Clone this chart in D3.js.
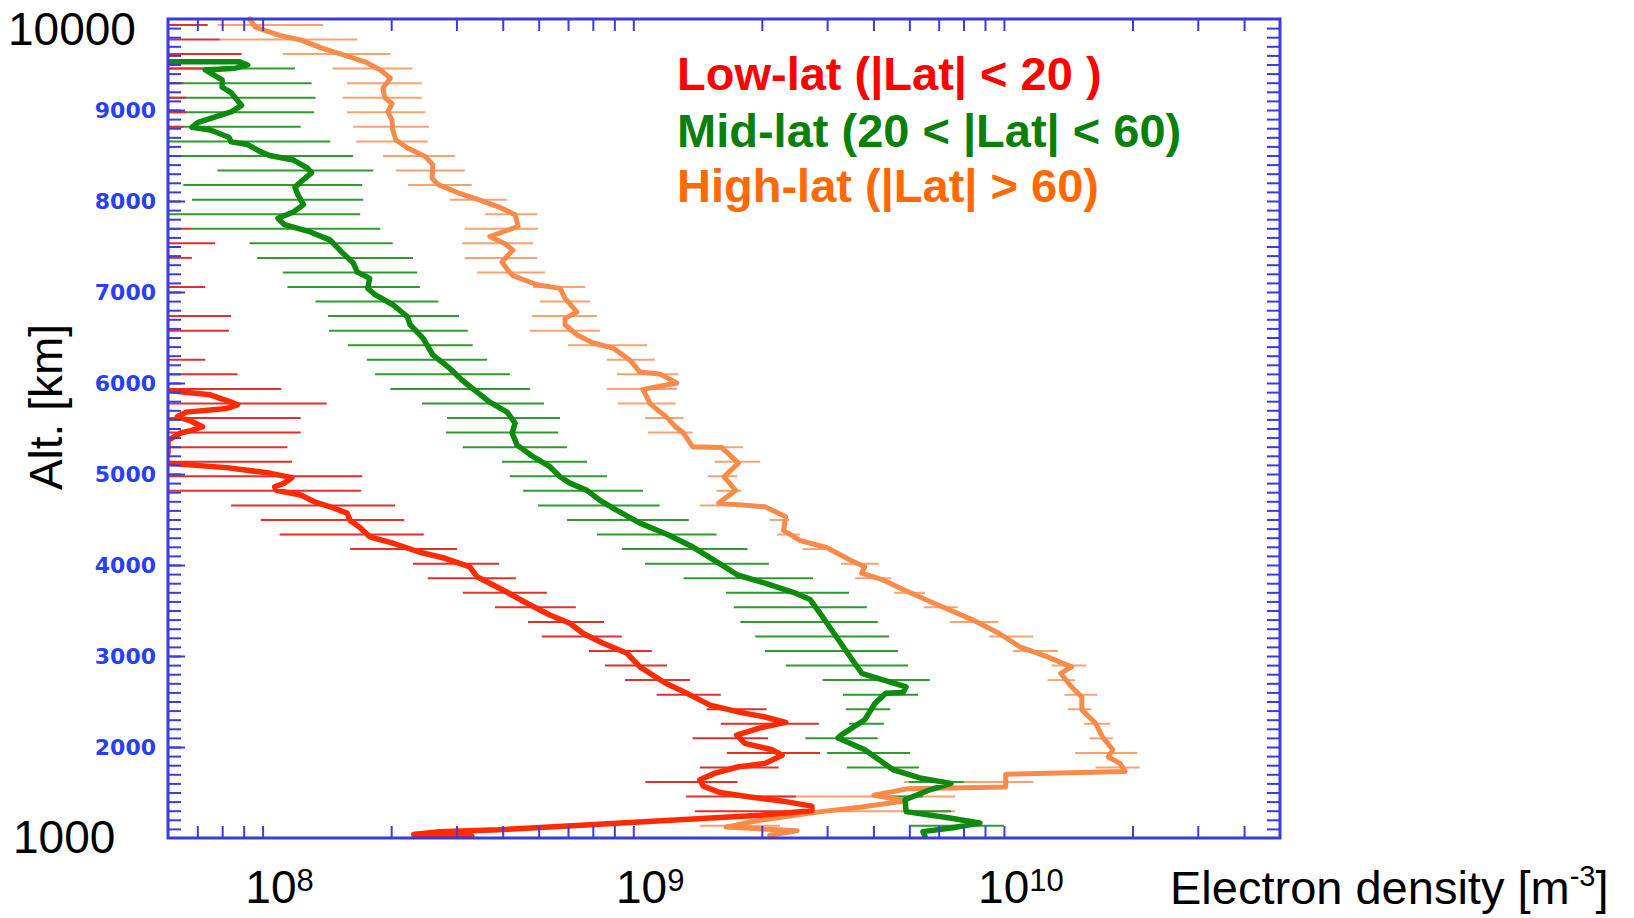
<!DOCTYPE html>
<html>
<head>
<meta charset="utf-8">
<script src="https://cdn.jsdelivr.net/npm/d3@7"></script>
<style>
body { margin: 0; background: #fff; }
</style>
</head>
<body>
<script>
var w = 1634;
var h = 918;

// profiles: [altitude km, electron density m^-3]
var lowLatProfile = [[5920,4.9e7],[5870,6.5e7],[5790,7.4e7],[5760,7.7e7],[5720,7.2e7],[5680,5.6e7],[5630,5.3e7],[5590,5.7e7],[5520,6.2e7],[5480,5.8e7],[5450,5.4e7],[5370,5.0e7],[5230,5.0e7],[5120,4.9e7],[5070,7.2e7],[5010,9.4e7],[4960,1.08e8],[4900,1.03e8],[4860,9.7e7],[4820,9.8e7],[4770,1.14e8],[4690,1.25e8],[4640,1.37e8],[4570,1.52e8],[4490,1.55e8],[4410,1.65e8],[4310,1.75e8],[4240,2.02e8],[4140,2.39e8],[4080,2.76e8],[3980,3.26e8],[3870,3.41e8],[3800,3.69e8],[3700,4.11e8],[3580,4.65e8],[3450,5.36e8],[3360,6.07e8],[3250,6.58e8],[3140,7.46e8],[3030,8.66e8],[2880,9.38e8],[2700,1.10e9],[2630,1.20e9],[2460,1.45e9],[2380,1.75e9],[2330,2.04e9],[2270,2.32e9],[2210,1.98e9],[2130,1.71e9],[2040,1.80e9],[1970,2.13e9],[1910,2.27e9],[1820,2.04e9],[1780,1.72e9],[1710,1.49e9],[1640,1.36e9],[1570,1.39e9],[1500,1.54e9],[1450,1.86e9],[1400,2.32e9],[1350,2.73e9],[1300,2.73e9],[1250,1.98e9],[1200,1.20e9],[1140,6.5e8],[1090,3.9e8],[1070,2.7e8],[1040,2.3e8],[1020,3.3e8]];

var midLatProfile = [[9530,4.8e7],[9530,7.8e7],[9495,8.2e7],[9460,7.6e7],[9440,6.3e7],[9330,7.0e7],[9250,7.0e7],[9190,7.4e7],[9050,7.9e7],[8980,7.4e7],[8860,6.0e7],[8810,5.8e7],[8780,6.5e7],[8700,7.3e7],[8650,7.4e7],[8620,8.2e7],[8540,8.9e7],[8500,9.4e7],[8450,1.09e8],[8360,1.19e8],[8310,1.22e8],[8210,1.14e8],[8150,1.10e8],[8070,1.12e8],[7960,1.16e8],[7880,1.09e8],[7810,9.9e7],[7740,1.03e8],[7660,1.21e8],[7570,1.37e8],[7440,1.47e8],[7320,1.58e8],[7220,1.62e8],[7150,1.75e8],[7040,1.73e8],[6970,1.81e8],[6860,2.02e8],[6730,2.21e8],[6640,2.25e8],[6490,2.44e8],[6310,2.59e8],[6160,2.88e8],[6030,3.11e8],[5900,3.41e8],[5790,3.69e8],[5680,4.11e8],[5560,4.32e8],[5450,4.24e8],[5320,4.37e8],[5190,4.83e8],[5080,5.36e8],[4970,5.71e8],[4900,6.07e8],[4820,6.75e8],[4710,7.32e8],[4600,8.13e8],[4460,9.38e8],[4330,1.12e9],[4200,1.30e9],[4050,1.49e9],[3890,1.72e9],[3800,2.04e9],[3700,2.43e9],[3620,2.70e9],[3470,2.87e9],[3250,3.13e9],[3030,3.41e9],[2810,3.72e9],[2740,4.22e9],[2660,4.90e9],[2600,4.81e9],[2590,4.32e9],[2480,4.04e9],[2300,3.79e9],[2130,3.27e9],[2100,3.21e9],[1970,3.79e9],[1860,4.14e9],[1750,4.52e9],[1660,5.34e9],[1600,6.48e9],[1530,5.68e9],[1420,4.87e9],[1290,4.90e9],[1220,6.43e9],[1165,7.75e9],[1110,6.48e9],[1070,5.44e9],[1020,5.51e9]];

var highLatProfile = [[10000,8.3e7],[9910,8.6e7],[9820,1.00e8],[9770,1.14e8],[9680,1.30e8],[9600,1.50e8],[9530,1.70e8],[9440,1.87e8],[9350,1.99e8],[9240,1.90e8],[9140,1.92e8],[9070,2.01e8],[8980,1.96e8],[8890,2.01e8],[8780,2.02e8],[8670,2.06e8],[8580,2.22e8],[8490,2.47e8],[8400,2.59e8],[8250,2.58e8],[8180,2.68e8],[8090,3.03e8],[8010,3.47e8],[7930,3.93e8],[7850,4.32e8],[7720,4.40e8],[7610,3.69e8],[7530,4.06e8],[7460,4.26e8],[7330,3.98e8],[7240,4.13e8],[7180,4.26e8],[7080,4.95e8],[7040,5.71e8],[6930,5.89e8],[6780,6.34e8],[6710,5.89e8],[6640,5.89e8],[6530,6.34e8],[6440,7.01e8],[6385,7.93e8],[6250,8.82e8],[6120,9.38e8],[6100,1.06e9],[6000,1.18e9],[5930,9.56e8],[5770,1.00e9],[5620,1.11e9],[5520,1.17e9],[5450,1.23e9],[5300,1.30e9],[5290,1.56e9],[5120,1.73e9],[4970,1.58e9],[4820,1.70e9],[4680,1.53e9],[4640,2.04e9],[4530,2.32e9],[4380,2.29e9],[4270,2.53e9],[4190,3.00e9],[4050,3.48e9],[3980,3.79e9],[3910,3.72e9],[3840,4.22e9],[3730,4.81e9],[3580,5.83e9],[3400,7.38e9],[3250,8.72e9],[3100,9.94e9],[2990,1.18e10],[2880,1.37e10],[2810,1.28e10],[2660,1.37e10],[2550,1.46e10],[2410,1.46e10],[2260,1.59e10],[2110,1.66e10],[1970,1.77e10],[1890,1.72e10],[1820,1.85e10],[1730,1.91e10],[1700,9.1e9],[1560,9.1e9],[1540,4.93e9],[1470,4.01e9],[1410,4.90e9],[1340,3.72e9],[1290,2.89e9],[1190,1.94e9],[1120,1.60e9],[1080,2.49e9],[1030,2.10e9]];

// error bars: [altitude km, low, high]
var lowLatErrors = [[9935,4.9e7,6.4e7],[9775,4.9e7,6.9e7],[9615,4.9e7,7.9e7],[9455,4.9e7,7.4e7],[9295,4.9e7,5.5e7],[9135,4.9e7,5.6e7],[8975,4.9e7,5.6e7],[8815,4.9e7,5.5e7],[7695,4.9e7,5.8e7],[7535,4.9e7,6.7e7],[7375,4.9e7,5.8e7],[7055,4.9e7,6.3e7],[6735,4.9e7,7.4e7],[6575,4.9e7,7.3e7],[6255,4.9e7,6.3e7],[6095,4.9e7,7.7e7],[5935,4.9e7,1.01e8],[5775,4.9e7,1.34e8],[5615,4.9e7,1.14e8],[5455,4.9e7,1.14e8],[5295,4.9e7,1.05e8],[5135,4.9e7,1.08e8],[4975,4.9e7,1.67e8],[4815,4.9e7,1.66e8],[4655,7.4e7,2.05e8],[4495,8.9e7,2.17e8],[4335,1.00e8,2.45e8],[4175,1.55e8,3.01e8],[4015,2.29e8,3.91e8],[3855,2.51e8,4.34e8],[3695,3.12e8,5.26e8],[3535,3.81e8,6.30e8],[3375,4.68e8,7.50e8],[3215,5.10e8,8.38e8],[3055,6.83e8,1.01e9],[2895,7.55e8,1.11e9],[2735,8.55e8,1.28e9],[2575,1.04e9,1.55e9],[2415,1.42e9,2.06e9],[2255,1.55e9,2.85e9],[2095,1.30e9,2.08e9],[1935,1.61e9,2.87e9],[1775,1.36e9,2.22e9],[1615,9.7e8,1.72e9],[1455,1.25e9,2.47e9],[1295,1.32e9,2.46e9]];

var midLatErrors = [[9455,4.9e7,1.10e8],[9295,4.9e7,1.22e8],[9135,4.9e7,1.25e8],[8975,4.9e7,1.24e8],[8815,4.9e7,1.14e8],[8655,4.9e7,1.37e8],[8495,4.9e7,1.58e8],[8335,6.8e7,1.79e8],[8175,5.5e7,1.67e8],[8015,5.8e7,1.68e8],[7855,4.9e7,1.65e8],[7695,5.8e7,1.87e8],[7535,8.3e7,2.02e8],[7375,8.7e7,2.29e8],[7215,1.02e8,2.35e8],[7055,1.05e8,2.39e8],[6895,1.25e8,2.68e8],[6735,1.35e8,3.05e8],[6575,1.36e8,3.22e8],[6415,1.53e8,3.32e8],[6255,1.72e8,3.63e8],[6095,1.81e8,4.18e8],[5935,1.99e8,4.74e8],[5775,2.42e8,5.17e8],[5615,2.83e8,5.71e8],[5455,2.81e8,5.64e8],[5295,3.12e8,5.96e8],[5135,3.98e8,6.75e8],[4975,4.18e8,7.64e8],[4815,4.54e8,9.56e8],[4655,4.98e8,1.06e9],[4495,5.96e8,1.27e9],[4335,7.18e8,1.51e9],[4175,8.38e8,1.83e9],[4015,9.68e8,2.09e9],[3855,1.23e9,2.75e9],[3695,1.60e9,3.44e9],[3535,1.68e9,3.84e9],[3375,1.75e9,4.11e9],[3215,1.92e9,4.41e9],[3055,2.04e9,4.66e9],[2895,2.32e9,4.96e9],[2735,2.92e9,5.68e9],[2575,3.31e9,5.28e9],[2415,3.37e9,4.44e9],[2255,3.44e9,4.27e9],[2095,2.62e9,4.11e9],[1935,3.00e9,5.02e9],[1775,3.39e9,5.31e9],[1615,4.99e9,7.02e9],[1455,4.44e9,5.44e9],[1295,4.90e9,6.48e9],[1135,4.99e9,9.00e9]];

var highLatErrors = [[9935,6.8e7,1.31e8],[9775,6.9e7,1.62e8],[9615,1.02e8,1.99e8],[9455,1.39e8,2.28e8],[9295,1.52e8,2.42e8],[9135,1.48e8,2.42e8],[8975,1.52e8,2.47e8],[8815,1.58e8,2.53e8],[8655,1.61e8,2.51e8],[8495,1.90e8,2.97e8],[8335,2.06e8,3.16e8],[8175,2.22e8,3.30e8],[8015,2.88e8,4.11e8],[7855,3.58e8,4.95e8],[7695,3.16e8,4.98e8],[7535,3.11e8,4.83e8],[7375,3.16e8,4.95e8],[7215,3.41e8,5.20e8],[7055,4.83e8,6.67e8],[6895,5.04e8,6.88e8],[6735,4.80e8,7.18e8],[6575,4.74e8,7.32e8],[6415,6.00e8,9.80e8],[6255,7.64e8,1.03e9],[6095,8.13e8,1.19e9],[5935,7.64e8,1.18e9],[5775,8.18e8,1.17e9],[5615,9.68e8,1.23e9],[5455,9.86e8,1.30e9],[5295,1.30e9,1.78e9],[5135,1.49e9,1.98e9],[4975,1.43e9,1.72e9],[4815,1.51e9,1.76e9],[4655,1.36e9,1.80e9],[4495,2.10e9,2.37e9],[4335,2.20e9,2.53e9],[4175,2.58e9,3.03e9],[4015,3.27e9,4.14e9],[3855,3.57e9,4.46e9],[3695,4.55e9,5.51e9],[3535,5.47e9,6.76e9],[3375,6.43e9,8.67e9],[3215,8.20e9,1.08e10],[3055,9.52e9,1.26e10],[2895,1.21e10,1.50e10],[2735,1.18e10,1.40e10],[2575,1.31e10,1.61e10],[2415,1.34e10,1.55e10],[2255,1.48e10,1.74e10],[2095,1.53e10,1.77e10],[1935,1.40e10,2.06e10],[1775,1.59e10,2.09e10],[1615,4.84e9,1.08e10],[1455,1.94e9,6.64e9],[1295,2.87e9,6.64e9],[1135,1.36e9,2.24e9]];

var altLabels = [2000, 3000, 4000, 5000, 6000, 7000, 8000, 9000];
var decades = [1e8, 1e9, 1e10];
var decadeExponents = ["8", "9", "10"];
var minorDensityTicks = [6e7,7e7,8e7,9e7,2e8,3e8,4e8,5e8,6e8,7e8,8e8,9e8,2e9,3e9,4e9,5e9,6e9,7e9,8e9,9e9,2e10,3e10,4e10];
var legendLabels = ["Low-lat (|Lat| < 20 )", "Mid-lat (20 < |Lat| < 60)", "High-lat (|Lat| > 60)"];

var svg = d3.select("body").append("svg").attr("width", w).attr("height", h);

var pL = 168, pR = 1280, pT = 19, pB = 838;
var xS = d3.scaleLog().domain([5e7, 5e10]).range([pL, pR]);
var yS = d3.scaleLinear().domain([1000, 10000]).range([pB, pT]);

var blue = "#3b3be0";

svg.append("clipPath").attr("id", "plot")
    .append("rect").attr("x", pL).attr("y", pT - 4).attr("width", pR - pL).attr("height", pB - pT + 4);

// error bars first, then the profiles on top
var series = [
    {prof: highLatProfile, err: highLatErrors, line: "#f88a4a", bar: "#f7a272", lw: 5},
    {prof: midLatProfile, err: midLatErrors, line: "#0e8a0e", bar: "#2f9a2f", lw: 5.5},
    {prof: lowLatProfile, err: lowLatErrors, line: "#ff2a00", bar: "#e0302e", lw: 5.5}
];

var plot = svg.append("g").attr("clip-path", "url(#plot)");

series.forEach(function(s) {
    plot.append("g").selectAll("line").data(s.err).enter().append("line")
        .attr("x1", function(d) {return xS(d[1]);})
        .attr("x2", function(d) {return xS(d[2]);})
        .attr("y1", function(d) {return yS(d[0]);})
        .attr("y2", function(d) {return yS(d[0]);})
        .attr("stroke", s.bar)
        .attr("stroke-width", 2);
});

var line = d3.line()
    .x(function(d) {return xS(d[1]);})
    .y(function(d) {return yS(d[0]);});

series.forEach(function(s) {
    plot.append("path").datum(s.prof)
        .attr("d", line)
        .attr("fill", "none")
        .attr("stroke", s.line)
        .attr("stroke-width", s.lw)
        .attr("stroke-linejoin", "round")
        .attr("stroke-linecap", "round");
});

// axes: ticks point inward
function styleAxis(g) {
    g.select(".domain").remove();
    g.selectAll(".tick line").attr("stroke", blue).attr("stroke-width", 2);
}

var altMinor = d3.range(1100, 10000, 100);
svg.append("g").attr("transform", "translate(" + pL + ",0)")
    .call(d3.axisLeft(yS).tickValues(altMinor).tickSize(-13).tickFormat(""))
    .call(styleAxis);
svg.append("g").attr("transform", "translate(" + pR + ",0)")
    .call(d3.axisRight(yS).tickValues(altMinor).tickSize(-13).tickFormat(""))
    .call(styleAxis);

var yLab = svg.append("g").attr("transform", "translate(" + pL + ",0)")
    .call(d3.axisLeft(yS).tickValues(altLabels).tickSize(-17).tickPadding(12).tickFormat(d3.format("d")))
    .call(styleAxis);
yLab.selectAll("text")
    .attr("font-family", "DejaVu Sans")
    .attr("font-weight", "bold")
    .attr("font-size", "22px")
    .attr("fill", "#2a3ff0");

svg.append("g").attr("transform", "translate(0," + pB + ")")
    .call(d3.axisBottom(xS).tickValues(minorDensityTicks).tickSize(-12).tickFormat(""))
    .call(styleAxis);
svg.append("g").attr("transform", "translate(0," + pT + ")")
    .call(d3.axisTop(xS).tickValues(minorDensityTicks).tickSize(-12).tickFormat(""))
    .call(styleAxis);

svg.append("rect")
    .attr("x", pL).attr("y", pT)
    .attr("width", pR - pL).attr("height", pB - pT)
    .attr("fill", "none").attr("stroke", blue).attr("stroke-width", 3);

// end labels of the altitude axis
svg.append("text").text("10000")
    .attr("x", 8).attr("y", 45)
    .attr("font-family", "Liberation Sans, Arial").attr("font-size", "46px").attr("fill", "#000");
svg.append("text").text("1000")
    .attr("x", 13).attr("y", 853)
    .attr("font-family", "Liberation Sans, Arial").attr("font-size", "46px").attr("fill", "#000");

// decade labels
var dl = svg.selectAll(".dec").data(decades).enter().append("text")
    .attr("class", "dec")
    .attr("x", function(d) {return xS(d);})
    .attr("y", 903)
    .attr("text-anchor", "middle")
    .attr("font-family", "Liberation Sans, Arial")
    .attr("font-size", "46px")
    .attr("fill", "#000");
dl.append("tspan").text("10");
dl.append("tspan").text(function(d, i) {return decadeExponents[i];})
    .attr("font-size", "31px").attr("dy", -12);

var xt = svg.append("text")
    .attr("x", 1170).attr("y", 904)
    .attr("font-family", "Liberation Sans, Arial")
    .attr("font-size", "47px")
    .attr("fill", "#000");
xt.append("tspan").text("Electron density [m");
xt.append("tspan").text("-3").attr("font-size", "29px").attr("dy", -18);
xt.append("tspan").text("]").attr("dy", 18);

svg.append("text").text("Alt. [km]")
    .attr("transform", "translate(62,407) rotate(-90)")
    .attr("text-anchor", "middle")
    .attr("font-family", "Liberation Sans, Arial")
    .attr("font-size", "46px")
    .attr("fill", "#000");

var legendColors = ["#ff0000", "#0a800a", "#ff6a00"];
svg.selectAll(".leg").data(legendLabels).enter().append("text")
    .attr("class", "leg")
    .text(function(d) {return d;})
    .attr("x", 677)
    .attr("y", function(d, i) {return [90, 147, 202][i];})
    .attr("font-family", "Liberation Sans, Arial")
    .attr("font-weight", "bold")
    .attr("font-size", "47px")
    .attr("fill", function(d, i) {return legendColors[i];});
</script>
</body>
</html>
